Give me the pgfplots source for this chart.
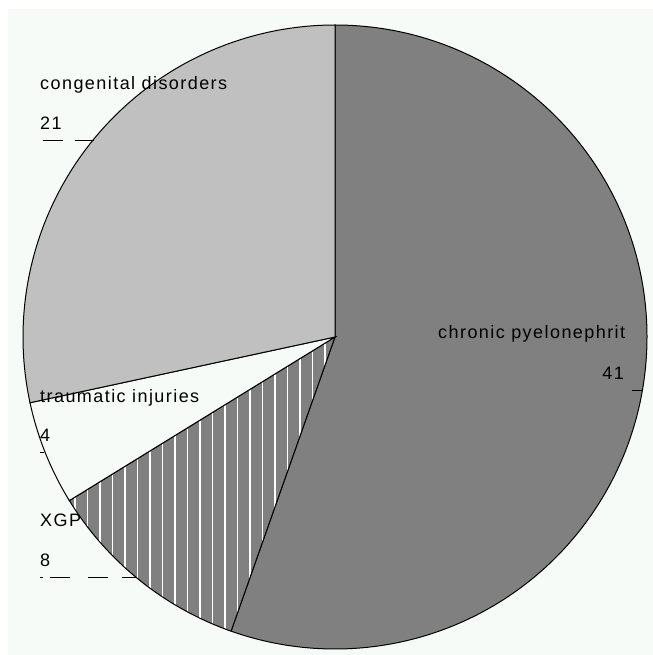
\documentclass[border=0pt]{standalone}
\usepackage{pgfplots}
\usepackage{pgfplotstable}
\pgfplotsset{compat=1.18}
\usetikzlibrary{patterns.meta}
\usepackage{fontspec}
\setmainfont{Liberation Sans}[LetterSpace=8]
\definecolor{bg}{HTML}{F7FBF8}
\definecolor{darkgrey}{HTML}{808080}
\definecolor{lightgrey}{HTML}{C0C0C0}

\pgfplotstableread{
label value
chronic 41
xgp 8
trauma 4
congenital 21
}\piedata

\begin{document}
\begin{tikzpicture}
\pgfplotstablegetelem{0}{value}\of\piedata \edef\vA{\pgfplotsretval}
\pgfplotstablegetelem{1}{value}\of\piedata \edef\vB{\pgfplotsretval}
\pgfplotstablegetelem{2}{value}\of\piedata \edef\vC{\pgfplotsretval}
\pgfplotstablegetelem{3}{value}\of\piedata \edef\vD{\pgfplotsretval}
\pgfmathsetmacro{\tot}{\vA+\vB+\vC+\vD}
\pgfmathsetmacro{\aA}{90-360*\vA/\tot}
\pgfmathsetmacro{\aB}{\aA-360*\vB/\tot}
\pgfmathsetmacro{\aC}{\aB-360*\vC/\tot}
\begin{axis}[hide axis, scale only axis, width=653bp, height=655bp,
  xmin=0, xmax=653, ymin=0, ymax=655, y dir=reverse, clip=false]
\coordinate (BL) at (axis cs:0,655);
\coordinate (TR) at (axis cs:653,0);
\fill[white] (axis cs:0,0) rectangle (axis cs:653,655);
\fill[bg] (axis cs:8,9) rectangle (axis cs:653,655);
\def\R{312bp}
\coordinate (C) at (axis cs:335,337);
% chronic pyelonephritis
\filldraw[fill=darkgrey, draw=black, line width=1bp] (C) -- ++(90:\R) arc[start angle=90, end angle=\aA, radius=\R] -- cycle;
% XGP (hatched)
\fill[darkgrey] (C) -- ++(\aA:\R) arc[start angle=\aA, end angle=\aB, radius=\R] -- cycle;
\fill[pattern={Lines[angle=90, distance=12.5bp, line width=1.3bp]}, pattern color=white] (C) -- ++(\aA:\R) arc[start angle=\aA, end angle=\aB, radius=\R] -- cycle;
\draw[black, line width=1bp] (C) -- ++(\aA:\R) arc[start angle=\aA, end angle=\aB, radius=\R] -- cycle;
% traumatic injuries
\filldraw[fill=bg, draw=black, line width=1bp] (C) -- ++(\aB:\R) arc[start angle=\aB, end angle=\aC, radius=\R] -- cycle;
% congenital disorders
\filldraw[fill=lightgrey, draw=black, line width=1bp] (C) -- ++(\aC:\R) arc[start angle=\aC, end angle=-270, radius=\R] -- cycle;
% labels
\fontsize{18bp}{20bp}\selectfont
\node[anchor=base west, inner sep=0pt] at (axis cs:40,90) {congenital disorders};
\node[anchor=base west, inner sep=0pt] at (axis cs:40,129) {\vD};
\draw[black, line width=1bp, dash pattern=on 20bp off 12bp] (axis cs:43,140) -- (axis cs:94,140);
\node[anchor=base west, inner sep=0pt] at (axis cs:40,402) {traumatic injuries};
\node[anchor=base west, inner sep=0pt] at (axis cs:40,441) {\vC};
\draw[black, line width=1bp] (axis cs:44,452) -- (axis cs:40,452);
\node[anchor=base west, inner sep=0pt] at (axis cs:40,526) {XGP};
\node[anchor=base west, inner sep=0pt] at (axis cs:40,566) {\vB};
\draw[black, line width=1bp, dash pattern=on 3bp off 7bp on 20bp off 18bp on 20bp off 14bp on 20bp off 20bp] (axis cs:40,577) -- (axis cs:137,577);
\node[anchor=base west, inner sep=0pt] at (axis cs:438,338) {chronic pyelonephrit};
\node[anchor=base east, inner sep=0pt] at (axis cs:624,379) {\vA};
\draw[black, line width=1bp] (axis cs:642,390) -- (axis cs:632,390);
\end{axis}
\pgfresetboundingbox
\path (BL) rectangle (TR);
\end{tikzpicture}
\end{document}
